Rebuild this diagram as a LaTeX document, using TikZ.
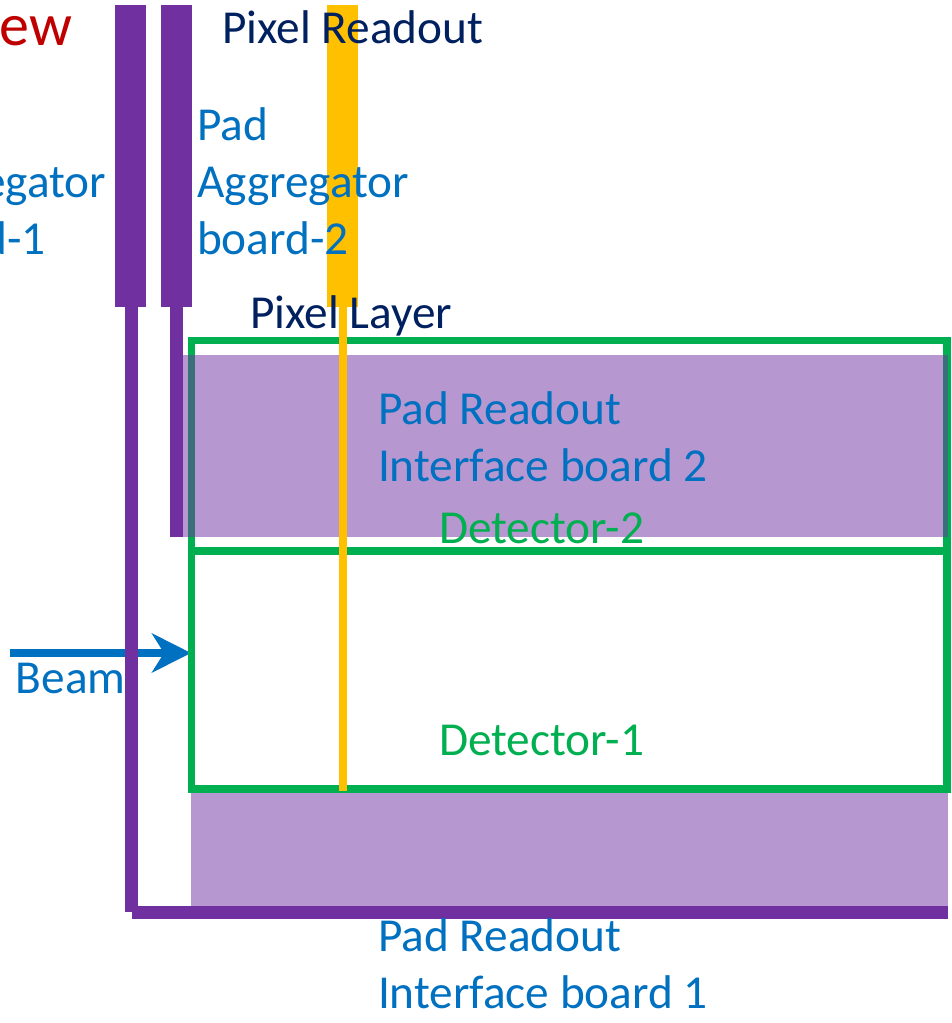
\documentclass[tikz,border=0pt]{standalone}
\usepackage{fontspec}
\setmainfont{Carlito}
\usetikzlibrary{arrows.meta}
\definecolor{cpurple}{HTML}{7030A0}
\definecolor{cyellow}{HTML}{FFC000}
\definecolor{cgreen}{HTML}{00B050}
\definecolor{cblue}{HTML}{0070C0}
\definecolor{cnavy}{HTML}{002060}
\definecolor{cred}{HTML}{C00000}
\begin{document}
\begin{tikzpicture}[x=1pt,y=-1pt,
  txt/.style={inner sep=0pt, outer sep=0pt, anchor=base west, align=left,
    font=\fontsize{47.3}{57}\selectfont},
  board/.style={fill=cpurple},
  pixel/.style={fill=cyellow},
  detbox/.style={draw=cgreen, line width=7.5pt},
  padboard/.style={fill=cpurple, fill opacity=0.5},
  beamarrow/.style={draw=cblue, line width=7.5pt, -{Stealth[length=39pt,width=39pt,inset=12pt]}}]
\useasboundingbox (0,0) rectangle (951,1023);
\clip (0,0) rectangle (951,1023);
\fill[white] (0,0) rectangle (951,1023);
% aggregator boards and pixel readout
\fill[board] (115,5) rectangle (146,307);
\fill[board] (161,5) rectangle (192,307);
\fill[pixel] (327,5) rectangle (358,307);
% beam
\coordinate (beamstart) at (10,653);
\coordinate (beamend) at (191,653);
\draw[beamarrow] (beamstart) -- (beamend);
% cables
\fill[board] (125,307) rectangle (138,912);
\fill[board] (132,906) rectangle (948,919);
\fill[board] (170,307) rectangle (183,537);
% detectors
\draw[detbox] (191.5,340.5) rectangle (947,789);
\draw[detbox] (191.5,551) -- (947,551);
% pad readout boards
\fill[padboard] (183,355) rectangle (948,537);
\fill[padboard] (191,793) rectangle (948,906);
% pixel layer
\fill[pixel] (339,307) rectangle (347,791);
% texts
\node[txt, anchor=base east, text=cred, font=\fontsize{60}{72}\selectfont] (title) at (72,45) {View};
\node[txt, text=cnavy] (pixro) at (222,43) {Pixel Readout};
\node[txt, text=cblue] (agg2) at (197,254) {Pad\\Aggregator\\board-2};
\node[txt, text=cblue] (agg1) at (-106,254) {Pad\\Aggregator\\board-1};
\node[txt, text=cnavy] (pixlayer) at (250,328) {Pixel Layer};
\node[txt, text=cblue] (pad2) at (378,481) {Pad Readout\\Interface board 2};
\node[txt, text=cgreen] (det2) at (439,543) {Detector-2};
\node[txt, text=cgreen] (det1) at (439,755) {Detector-1};
\node[txt, text=cblue] (beam) at (16,693) {Beam};
\node[txt, text=cblue] (pad1) at (378,1008) {Pad Readout\\Interface board 1};
\end{tikzpicture}
\end{document}
